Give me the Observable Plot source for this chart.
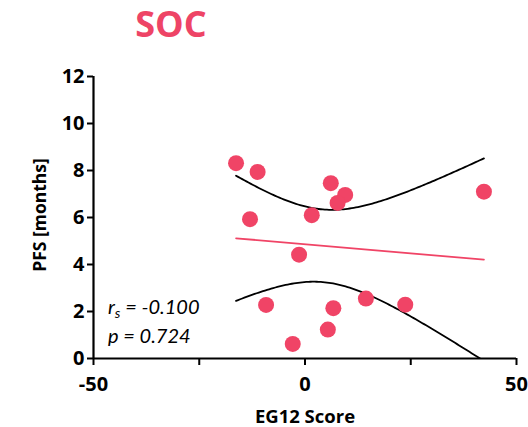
<!DOCTYPE html>
<html><head><meta charset="utf-8">
<script src="https://cdn.jsdelivr.net/npm/d3@7"></script>
<script src="https://cdn.jsdelivr.net/npm/@observablehq/plot@0.6"></script>
<style>
body{margin:0;background:#fff;width:528px;height:427px;overflow:hidden;font-family:"Open Sans",sans-serif;}
#title{position:absolute;left:0;top:0;width:342px;height:50px;line-height:48px;text-align:center;font-weight:bold;font-size:36px;color:#EE4466;font-family:"Open Sans",sans-serif;}
#chart{position:absolute;left:0;top:50px;}
</style></head><body>
<div id="title">SOC</div>
<div id="chart"></div>
<script>
const egScore   = [-16.3, -11.2, -13.0, -1.4, -9.2, -2.9, 6.1, 9.5, 7.7, 1.6, 6.7, 5.4, 14.4, 23.7, 42.3];
const pfsMonths = [8.31, 7.94, 5.93, 4.42, 2.28, 0.62, 7.46, 6.96, 6.62, 6.10, 2.14, 1.23, 2.55, 2.29, 7.10];
const xTicks = [-50, -25, 0, 25, 50];
const xTickLabels = ["-50", "", "0", "", "50"];
const yTicks = [0, 2, 4, 6, 8, 10, 12];
const rsText = "-0.100";
const pText = "0.724";

const pink = "#F04466";
const FONT = "'Open Sans', sans-serif";
const points = egScore.map((x, i) => ({x, y: pfsMonths[i]}));

// 95% confidence band of the linear regression, derived from the points
const n = points.length;
const mx = d3.mean(egScore), my = d3.mean(pfsMonths);
const sxx = d3.sum(egScore, x => (x - mx) ** 2);
const sxy = d3.sum(points, d => (d.x - mx) * (d.y - my));
const b = sxy / sxx, a = my - b * mx;
const s = Math.sqrt(d3.sum(points, d => (d.y - a - b * d.x) ** 2) / (n - 2));
const tCrit = 2.160; // df = 13
const [x0, x1] = d3.extent(egScore);
const band = d3.range(0, 121).map(i => {
  const x = x0 + (x1 - x0) * i / 120;
  const h = tCrit * s * Math.sqrt(1 / n + (x - mx) ** 2 / sxx);
  return {x, lo: a + b * x - h, hi: a + b * x + h};
});

const chart = Plot.plot({
  width: 528, height: 377,
  marginLeft: 93, marginRight: 12, marginTop: 26, marginBottom: 69,
  style: {fontFamily: FONT, fontWeight: "bold", fontSize: "20px", color: "#000", background: "white"},
  x: {domain: [-50, 50]},
  y: {domain: [0, 12]},
  marks: [
    Plot.axisX({ticks: xTicks, tickFormat: d => xTickLabels[xTicks.indexOf(d)], tickSize: 7, tickPadding: 11, strokeWidth: 2, fontWeight: "bold", label: null}),
    Plot.axisY({ticks: yTicks, tickFormat: d => String(d), tickSize: 6, tickPadding: 3, strokeWidth: 2, fontWeight: "bold", label: null}),
    Plot.ruleY([0], {strokeWidth: 2.2}),
    Plot.ruleX([-50], {strokeWidth: 2.2}),
    Plot.line(band, {x: "x", y: "hi", stroke: "black", strokeWidth: 1.8, clip: true}),
    Plot.line(band, {x: "x", y: "lo", stroke: "black", strokeWidth: 1.8, clip: true}),
    Plot.linearRegressionY(points, {x: "x", y: "y", ci: 0, stroke: pink, strokeWidth: 1.8}),
    Plot.dot(points, {x: "x", y: "y", r: 8, fill: pink, stroke: "none"})
  ]
});
document.getElementById("chart").append(chart);

const svg = d3.select(chart);
svg.append("text").attr("x", 305).attr("y", 373).attr("text-anchor", "middle")
  .attr("font-family", FONT).attr("font-weight", "bold").attr("font-size", 18.5)
  .text("EG12 Score");
svg.append("text").attr("transform", "translate(46,165) rotate(-90)").attr("text-anchor", "middle")
  .attr("font-family", FONT).attr("font-weight", "bold").attr("font-size", 17.5)
  .text("PFS [months]");
const t1 = svg.append("text").attr("x", 108).attr("y", 264).attr("text-anchor", "start")
  .attr("font-family", "Lato, sans-serif").attr("font-style", "italic").attr("font-weight", "normal").attr("font-size", 20);
t1.append("tspan").text("r");
t1.append("tspan").attr("dy", 4).attr("font-size", 14).text("s");
t1.append("tspan").attr("dy", -4).text(" = " + rsText);
svg.append("text").attr("x", 108).attr("y", 293).attr("text-anchor", "start")
  .attr("font-family", "Lato, sans-serif").attr("font-style", "italic").attr("font-weight", "normal").attr("font-size", 20)
  .text("p = " + pText);
</script>
</body></html>
